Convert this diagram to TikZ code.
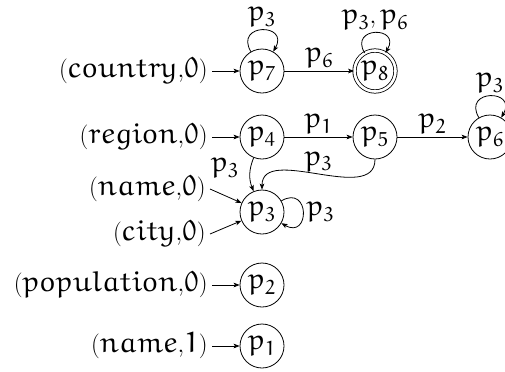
\documentclass[tikz,border=0pt]{standalone}
\usetikzlibrary{arrows.meta}
\DeclareFontFamily{U}{myeur}{}
\DeclareFontShape{U}{myeur}{m}{n}{<-> eurm10}{}
\DeclareMathAlphabet{\mathe}{U}{myeur}{m}{n}
\newcommand{\pp}[1]{\mathe{p}_{\mathe{#1}}}
\newcommand{\pair}[2]{\ensuremath{(\mathe{#1}{,}\mathe{#2})}}
\begin{document}
\begin{tikzpicture}[x=1bp,y=-1bp,
  >={Stealth[length=6bp,width=4.6bp,inset=1.4bp]},
  line width=0.8bp,
  every node/.style={font=\fontsize{29}{33}\selectfont},
  st/.style={circle,draw,minimum size=44bp,inner sep=0pt},
  acc/.style={st,double,double distance=2.6bp,minimum size=41bp},
  txt/.style={anchor=east,inner sep=4bp},
  lp/.style={looseness=3.8}]
\useasboundingbox (0,0) rectangle (505,371);
% states
\node[st]  (p7) at (262,71)  {$\pp{7}$};
\node[acc] (p8) at (375,71)  {$\pp{8}$};
\node[st]  (p4) at (262,137) {$\pp{4}$};
\node[st]  (p5) at (375,137) {$\pp{5}$};
\node[st]  (p6) at (490,137) {$\pp{6}$};
\node[st]  (p3) at (262,212) {$\pp{3}$};
\node[st]  (p2) at (262,285) {$\pp{2}$};
\node[st]  (p1) at (262,346) {$\pp{1}$};
% initial labels
\node[txt] (c0) at (212,71)  {\pair{country}{0}};
\node[txt] (r0) at (212,137) {\pair{region}{0}};
\node[txt] (n0) at (210,189) {\pair{name}{0}};
\node[txt] (y0) at (210,234) {\pair{city}{0}};
\node[txt] (q0) at (212,285) {\pair{population}{0}};
\node[txt] (m0) at (212,346) {\pair{name}{1}};
% initial arrows
\draw[->] (c0) -- (p7);
\draw[->] (r0) -- (p4);
\draw[->] (n0.east) -- (p3);
\draw[->] (y0.east) -- (p3);
\draw[->] (q0) -- (p2);
\draw[->] (m0) -- (p1);
% transitions
\draw[->] (p7) -- node[above] {$\pp{6}$} (p8);
\draw[->] (p4) -- node[above] {$\pp{1}$} (p5);
\draw[->] (p5) -- node[above] {$\pp{2}$} (p6);
\draw[->] (p4) to[out=-112,in=112] node[left,pos=0.3,xshift=-8bp] {$\pp{3}$} (p3);
\draw[->] (p5) to[out=-90,in=90] node[above] {$\pp{3}$} (p3);
% loops
\draw[->] (p7) to[out=120,in=60,lp] node[above] {$\pp{3}$} (p7);
\draw[->] (p8) to[out=120,in=60,lp] node[above] {$\pp{3},\pp{6}$} (p8);
\draw[->] (p6) to[out=120,in=60,lp] node[above] {$\pp{3}$} (p6);
\draw[->] (p3) to[out=30,in=-30,lp] node[right] {$\pp{3}$} (p3);
\end{tikzpicture}
\end{document}
